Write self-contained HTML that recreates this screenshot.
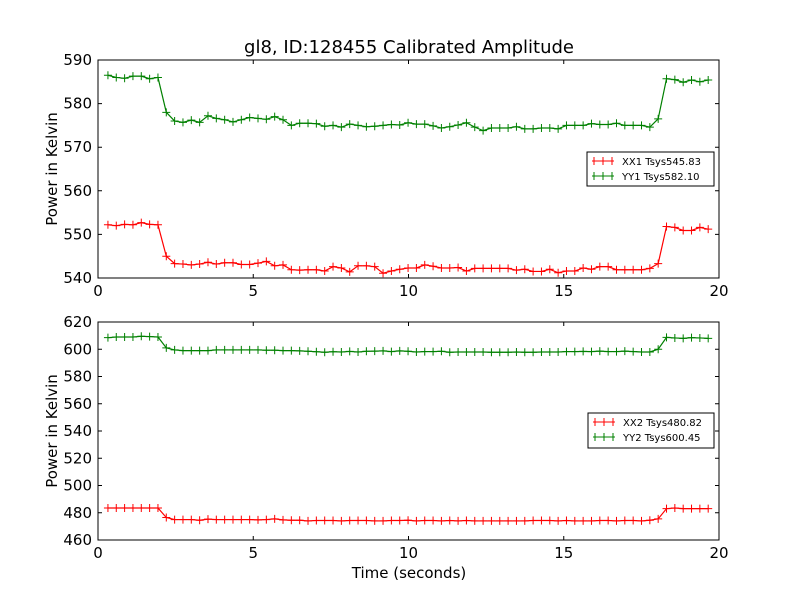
<!DOCTYPE html>
<html><head><meta charset="utf-8"><style>
body{margin:0;background:#fff;font-family:"Liberation Sans","DejaVu Sans",sans-serif}
svg text{font-family:"DejaVu Sans","Liberation Sans",sans-serif}
</style></head><body>
<svg id="chart" width="800" height="600" xmlns="http://www.w3.org/2000/svg">
<rect width="800" height="600" fill="#fff"/>
<text x="409" y="53" font-size="18" text-anchor="middle">gl8, ID:128455 Calibrated Amplitude</text>
<g id="top"></g>
<g id="bot"></g>
<text x="409" y="578" font-size="15" text-anchor="middle">Time (seconds)</text>
</svg>
<script>
const xTicks=[0,5,10,15,20];
const topTicks=[540,550,560,570,580,590];
const botTicks=[460,480,500,520,540,560,580,600,620];
const t0=0.32, dt=0.2685;
const yy1=[586.5,586,585.8,586.3,586.3,585.7,586,
578,576,575.7,576.2,575.7,577.2,576.6,576.3,575.8,576.3,576.8,576.6,576.4,577,576.3,575,575.5,575.5,575.4,574.8,575,574.6,575.3,575,574.7,574.8,575,575.2,575.1,575.6,575.3,575.3,574.9,574.4,574.7,575.1,575.6,574.6,573.8,574.4,574.4,574.4,574.7,574.2,574.2,574.4,574.4,574.2,575,575,575,575.4,575.2,575.2,575.5,575,575,575,574.6,576.5,
585.7,585.5,584.9,585.4,585,585.4];
const xx1=[552.2,552,552.3,552.2,552.7,552.3,552.2,
545,543.3,543.2,543,543.2,543.6,543.2,543.5,543.5,543.1,543.1,543.4,543.8,542.8,543,541.9,541.8,541.9,541.9,541.6,542.6,542.3,541.4,542.8,542.8,542.6,541.1,541.6,542,542.3,542.3,543,542.7,542.3,542.3,542.4,541.6,542.2,542.2,542.2,542.2,542.2,541.8,542,541.5,541.5,542,541.2,541.6,541.6,542.3,542,542.6,542.6,541.9,541.9,541.9,541.9,542.2,543.3,
551.8,551.6,550.9,550.9,551.6,551.2];
const yy2=[608.5,609,609,609,609.5,609.3,609,
601,599.5,599,599,599,599,599.5,599.5,599.5,599.5,599.5,599.5,599.3,599.3,599,599,598.8,598.5,598.2,597.8,598.2,598,598.4,598,598.5,598.6,598.8,598.3,598.8,598.5,598,598.3,598.3,598.5,597.8,598,598,598,598,597.8,597.8,597.8,598,597.8,597.8,598,598,598,598.3,598.3,598.4,598.3,598.6,598.3,598.3,598.6,598.3,598,598,600,
608.7,608.3,608,608.5,608.3,608];
const xx2=[483.5,483.5,483.5,483.5,483.5,483.5,483.5,
476.5,475,475,475,474.5,475.3,475,475,475,475,475,474.8,475,475.5,474.8,474.5,474.5,474,474.3,474.3,474.3,474,474.3,474.3,474.3,474,474,474.3,474.3,474.5,474,474.3,474.3,474,474.3,474,474.3,474,474,474,474,474,474,474,474.3,474.3,474.3,474,474.3,474,474,474,474.3,474.3,474,474.3,474.3,474,474.5,475.5,
483,483.5,483,483,483,483];
const NS="http://www.w3.org/2000/svg";
function mk(p,tag,at){const e=document.createElementNS(NS,tag);for(const k in at)e.setAttribute(k,at[k]);p.appendChild(e);return e;}
function panel(g,L,T,R,B,ymin,ymax,yt,series,names,leg){
  const sx=v=>L+(v-0)/(20-0)*(R-L);
  const sy=v=>B-(v-ymin)/(ymax-ymin)*(B-T);
  series.forEach((s,si)=>{
    const col=si==0?'#ff0000':'#008000';
    const pts=s.map((v,i)=>sx(t0+dt*i).toFixed(2)+','+sy(v).toFixed(2)).join(' ');
    const pl=mk(g,'polyline',{points:pts,fill:'none',stroke:col,'stroke-width':1.2});
    
    
    s.forEach((v,i)=>{const x=sx(t0+dt*i),y=sy(v);
      const m=mk(g,'path',{d:`M${x-4},${y}H${x+4}M${x},${y-4}V${y+4}`,stroke:col,'stroke-width':1});
      
      });
  });
  const fr=mk(g,'rect',{x:L,y:T,width:R-L,height:B-T,fill:'none',stroke:'#000','stroke-width':1});
  
  
  xTicks.forEach(v=>{const x=sx(v);
    mk(g,'path',{d:`M${x},${B}v-4M${x},${T}v4`,stroke:'#000'});
    const t=mk(g,'text',{x:x,y:B+18,'font-size':15,'text-anchor':'middle'});t.textContent=v;
    
    });
  yt.forEach(v=>{const y=sy(v);
    mk(g,'path',{d:`M${L},${y}h4M${R},${y}h-4`,stroke:'#000'});
    const t=mk(g,'text',{x:L-6,y:y+5,'font-size':15,'text-anchor':'end'});t.textContent=v;
    
    });
  const yl=mk(g,'text',{x:0,y:0,'font-size':15,'text-anchor':'middle',transform:`translate(57,${(T+B)/2}) rotate(-90)`});
  yl.textContent='Power in Kelvin';
  
  
  const lg=mk(g,'g',{});
  
  
  mk(lg,'rect',{x:leg[0],y:leg[1],width:leg[2]-leg[0],height:leg[3]-leg[1],fill:'#fff',stroke:'#000','stroke-width':1});
  leg[4].forEach((lab,i)=>{const y=leg[1]+9+i*15,col=i==0?'#ff0000':'#008000',x=leg[0]+5;
    mk(lg,'path',{d:`M${x},${y}h22M${x+11},${y-4}v8M${x+2},${y-4}v8M${x+20},${y-4}v8`,stroke:col,'stroke-width':1});
    const t=mk(lg,'text',{x:x+30,y:y+4,'font-size':10});t.textContent=lab;
    
    });
}
panel(document.getElementById('top'),98,60,719,278,540,590,topTicks,[xx1,yy1],['xx1','yy1'],[587,152,714,186,['XX1 Tsys545.83','YY1 Tsys582.10']]);
panel(document.getElementById('bot'),98,322,719,540,460,620,botTicks,[xx2,yy2],['xx2','yy2'],[588,413,714,448,['XX2 Tsys480.82','YY2 Tsys600.45']]);
</script>
</body></html>
